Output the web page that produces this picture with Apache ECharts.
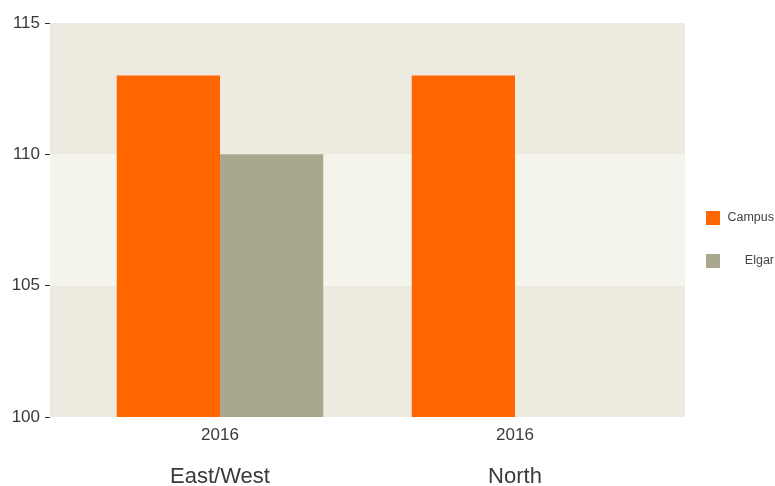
<!DOCTYPE html>
<html>
<head>
<meta charset="utf-8">
<script src="https://cdn.jsdelivr.net/npm/echarts@6/dist/echarts.min.js"></script>
<style>
  html, body { margin: 0; padding: 0; background: #fff; }
  #main { width: 775px; height: 486px; }
</style>
</head>
<body>
<div id="main"></div>
<script>
// chart data
var years = ['2016', '2016']
var regions = ['East/West', 'North']
var campus = [113, 113]
var elgar = [110, null]
var yMin = 100
var yMax = 115
var yStep = 5

var font = 'Liberation Sans, Arial, sans-serif'
var myChart = echarts.init(document.getElementById('main'))

var option = {
  animation: false,
  textStyle: { fontFamily: font },
  legend: {
    orient: 'vertical',
    left: 701,
    top: 206,
    itemWidth: 14,
    itemHeight: 14,
    itemGap: 29,
    icon: 'rect',
    data: ['Campus', 'Elgar'],
    formatter: '{t|{name}}',
    textStyle: {
      fontFamily: font,
      rich: { t: { width: 49, align: 'right', fontSize: 12.5, color: '#444', fontFamily: font } }
    }
  },
  grid: [
    { left: 50, right: 90, top: 23, bottom: 69, outerBoundsMode: 'none' },
    { left: 72.5, right: 112.5, top: 23, bottom: 69, outerBoundsMode: 'none' }
  ],
  xAxis: [
    { gridIndex: 0, type: 'value', show: false, min: 0, max: 1 },
    {
      gridIndex: 1,
      type: 'category',
      data: years,
      axisLine: { show: false },
      axisTick: { show: false },
      axisLabel: { fontSize: 17, color: '#3a3a3a', margin: 10 }
    },
    {
      gridIndex: 1,
      type: 'category',
      data: regions,
      position: 'bottom',
      axisLine: { show: false },
      axisTick: { show: false },
      axisLabel: { fontSize: 22, color: '#3a3a3a', margin: 49 }
    }
  ],
  yAxis: [
    {
      gridIndex: 0,
      type: 'value',
      min: yMin,
      max: yMax,
      interval: yStep,
      axisLine: { show: false },
      axisTick: { show: true, length: 5, lineStyle: { color: '#333' } },
      axisLabel: { fontSize: 17, color: '#3a3a3a', margin: 10 },
      splitLine: { show: false },
      splitArea: { show: true, areaStyle: { color: ['#edeadf', '#f5f4ec'] } }
    },
    {
      gridIndex: 1,
      type: 'value',
      min: yMin,
      max: yMax,
      interval: yStep,
      show: false,
      splitLine: { show: false }
    }
  ],
  series: [
    {
      name: 'Campus',
      type: 'bar',
      xAxisIndex: 1,
      yAxisIndex: 1,
      data: campus,
      barGap: 0,
      barCategoryGap: '30%',
      itemStyle: { color: '#ff6600' }
    },
    {
      name: 'Elgar',
      type: 'bar',
      xAxisIndex: 1,
      yAxisIndex: 1,
      data: elgar,
      barGap: 0,
      barCategoryGap: '30%',
      itemStyle: { color: '#aaa78f' }
    }
  ]
}

option && myChart.setOption(option)
</script>
</body>
</html>
